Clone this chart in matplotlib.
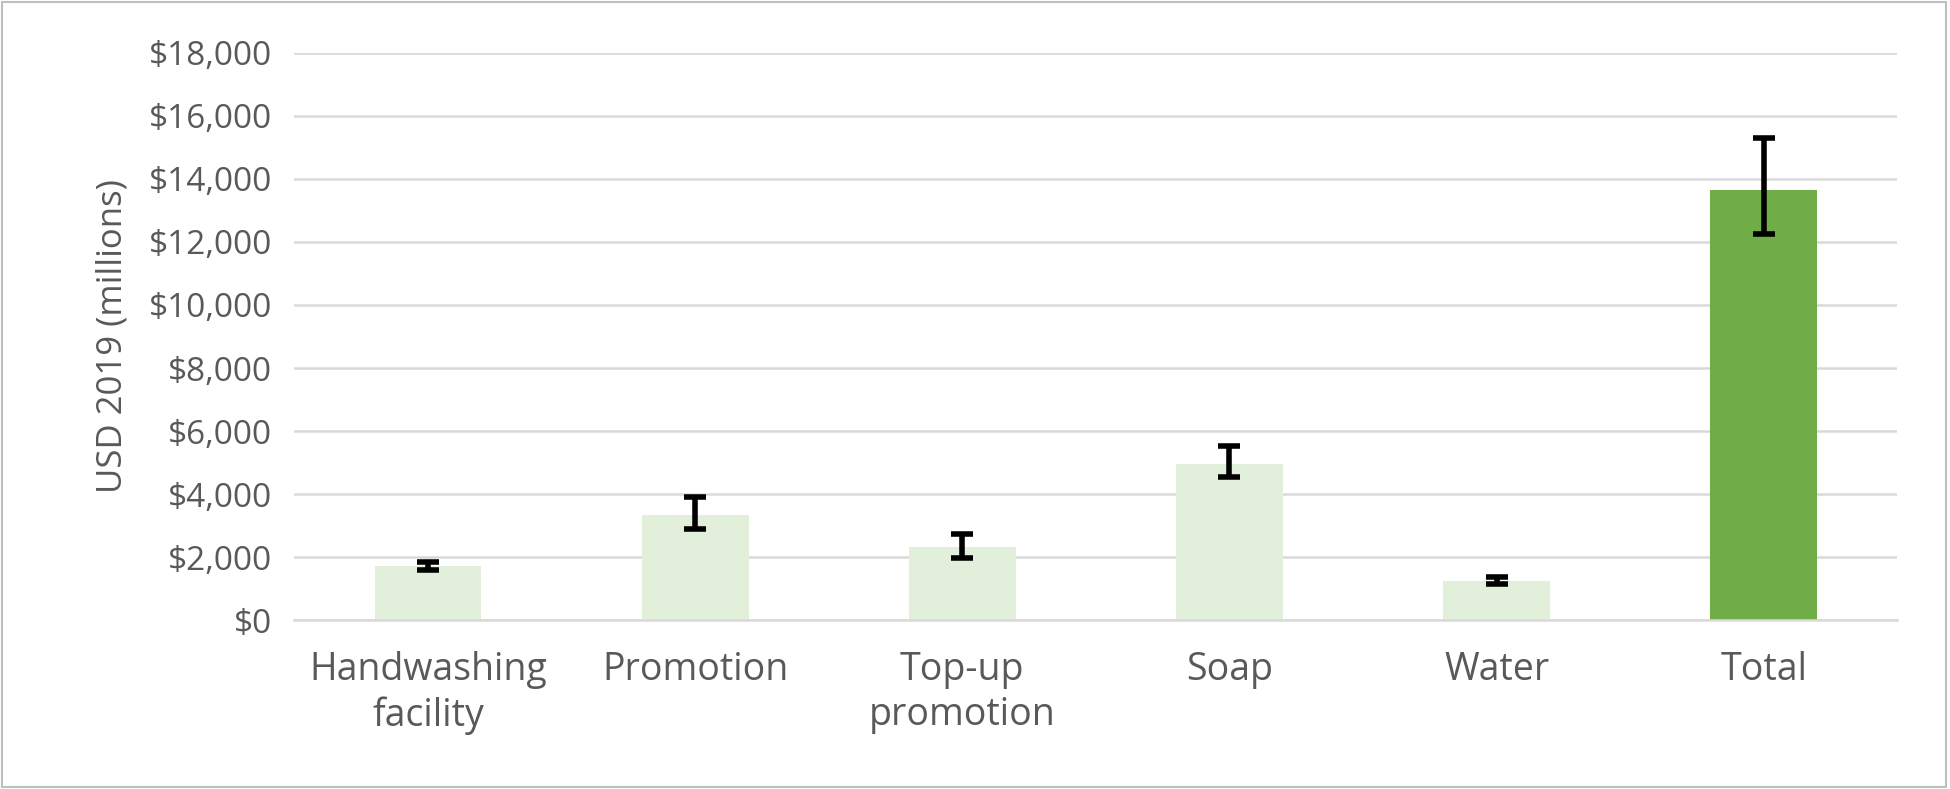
import matplotlib.pyplot as plt
from matplotlib.ticker import FuncFormatter, MultipleLocator

# Data
categories = ['Handwashing\nfacility', 'Promotion', 'Top-up\npromotion', 'Soap', 'Water', 'Total']
values = [1720, 3350, 2320, 4960, 1240, 13650]
err_low = [1600, 2900, 1980, 4540, 1150, 12250]
err_high = [1850, 3900, 2740, 5540, 1380, 15300]

colors = ['#e2efda'] * 5 + ['#70ad47']
text_color = '#595959'
plt.rcParams['font.family'] = ['Open Sans', 'DejaVu Sans']

fig = plt.figure(figsize=(19.5, 7.89), dpi=100)
ax = fig.add_axes([0.151, 0.214, 0.822, 0.719])

x = list(range(len(categories)))
yerr = [[v - lo for v, lo in zip(values, err_low)],
        [hi - v for v, hi in zip(values, err_high)]]
ax.bar(x, values, width=0.4, color=colors, zorder=2)
ax.errorbar(x, values, yerr=yerr, fmt='none', ecolor='black',
            elinewidth=4, capsize=8, capthick=4, zorder=3)

ax.set_ylim(0, 18000)
ax.set_xlim(-0.5, len(categories) - 0.5)
ax.yaxis.set_major_locator(MultipleLocator(2000))
ax.yaxis.set_major_formatter(FuncFormatter(lambda v, p: f'${v:,.0f}'))
ax.grid(axis='y', color='#d9d9d9', linewidth=1.8, zorder=0)
for s in ['top', 'right', 'left']:
    ax.spines[s].set_visible(False)
ax.spines['bottom'].set_color('#d9d9d9')
ax.spines['bottom'].set_linewidth(1.8)
ax.tick_params(axis='y', length=0, labelsize=24, colors=text_color, pad=16)
ax.tick_params(axis='x', length=0, labelsize=27, colors=text_color, pad=22)
ax.set_xticks(x)
ax.set_xticklabels(categories, linespacing=1.25)
ax.set_ylabel('USD 2019 (millions)', fontsize=25, color=text_color, labelpad=14)

fig.patches.append(plt.Rectangle((0.001, 0.002), 0.997, 0.996, transform=fig.transFigure,
                                 fill=False, edgecolor='#bfbfbf', linewidth=1.5))
fig.savefig('out.png', dpi=100)
